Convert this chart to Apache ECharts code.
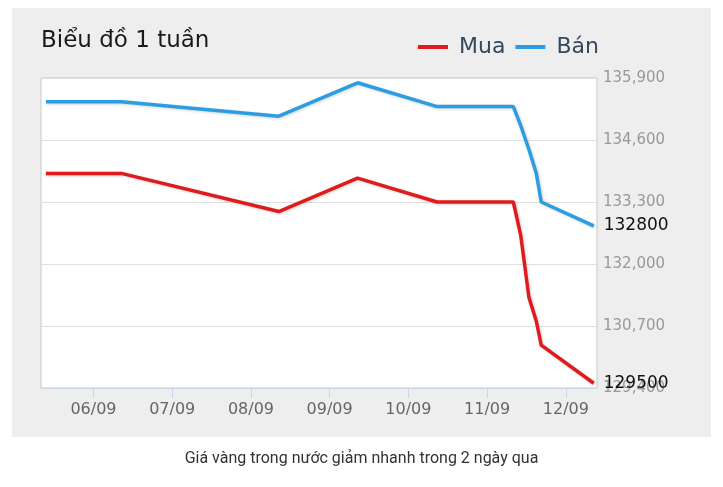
<!DOCTYPE html>
<html>
<head>
<meta charset="utf-8">
<script src="https://cdn.jsdelivr.net/npm/echarts@6/dist/echarts.min.js"></script>
<style>
html,body{margin:0;padding:0;background:#fff;}
#c{width:723px;height:487px;}
</style>
</head>
<body>
<div id="c"></div>
<script>
const times = ['2025-09-05 09:30','2025-09-06 08:30','2025-09-08 08:30','2025-09-09 08:30','2025-09-10 08:45','2025-09-11 08:00','2025-09-11 10:15','2025-09-11 12:45','2025-09-11 15:00','2025-09-11 16:30','2025-09-12 08:30'];
const muaValues = [133900,133900,133100,133800,133300,133300,132600,131300,130800,130300,129500];
const banValues = [135400,135400,135100,135800,135300,135300,134900,134400,133900,133300,132800];
const yTicks = [129400,130700,132000,133300,134600,135900];
const seriesNames = ['Mua','Bán'];
const titleText = 'Biểu đồ 1 tuần';
const captionText = 'Giá vàng trong nước giảm nhanh trong 2 ngày qua';

const FF = "DejaVu Sans";
const FD = "DejaVu Sans";
const chart = echarts.init(document.getElementById('c'));
const toPairs = vals => times.map((t,i)=>[t, vals[i]]);
const lineShadow = {shadowColor:'rgba(0,0,0,0.18)', shadowBlur:3, shadowOffsetX:1, shadowOffsetY:1};
const endLbl = {
  show:true, distance:10, fontSize:17, color:'#111',
  fontFamily:FD, formatter: p => String(p.value[1])
};
chart.setOption({
  animation:false,
  graphic:[{type:'rect', left:12, top:8, shape:{width:699, height:429}, style:{fill:'#eeeeee'}, z:-10}],
  title:[
    {text:titleText, left:41, top:30, padding:0, textStyle:{fontSize:23, fontWeight:'normal', color:'#1a1a1a', fontFamily:FF}},
    {text:captionText, left:'center', top:446, textStyle:{fontSize:16, fontWeight:'normal', color:'#333', fontFamily:"Roboto"}}
  ],
  legend:{
    left:413, top:31, itemWidth:30, itemHeight:4, itemGap:10, icon:'rect',
    data:seriesNames,
    textStyle:{fontSize:22, color:'#34495e', fontFamily:FF, padding:[0,0,0,6]}
  },
  grid:{left:41, top:78, width:556, height:310, show:true, backgroundColor:'#fff', borderColor:'#c8c8c8', borderWidth:1},
  xAxis:{
    type:'time',
    min:'2025-09-05 08:00', max:'2025-09-12 09:30',
    interval: 24*3600*1000,
    axisLine:{lineStyle:{color:'#ccd6eb', width:1}},
    axisTick:{show:true, length:10, lineStyle:{color:'#ccd6eb'}},
    axisLabel:{fontSize:16, color:'#666', margin:14, fontFamily:FD, formatter:'{dd}/{MM}', hideOverlap:false},
    splitLine:{show:false}
  },
  yAxis:{
    type:'value', position:'right', min:129400, max:135900,
    axisLine:{show:false},
    axisTick:{show:false, customValues:yTicks},
    axisLabel:{customValues:yTicks, fontSize:15, color:'#999', margin:6, fontFamily:FD, padding:[0,0,11,0],
      formatter: v => v.toLocaleString('en-US')},
    splitLine:{show:true, lineStyle:{color:'#e0e0e0', width:1}}
  },
  series:[
    {name:seriesNames[0], type:'line', data:toPairs(muaValues), symbol:'none', color:'#df1b1b',
     lineStyle:Object.assign({width:3.5, color:'#df1b1b'}, lineShadow), endLabel:endLbl},
    {name:seriesNames[1], type:'line', data:toPairs(banValues), symbol:'none', color:'#2b9ee3',
     lineStyle:Object.assign({width:3.5, color:'#2b9ee3'}, lineShadow), endLabel:endLbl}
  ]
});
</script>
</body>
</html>
